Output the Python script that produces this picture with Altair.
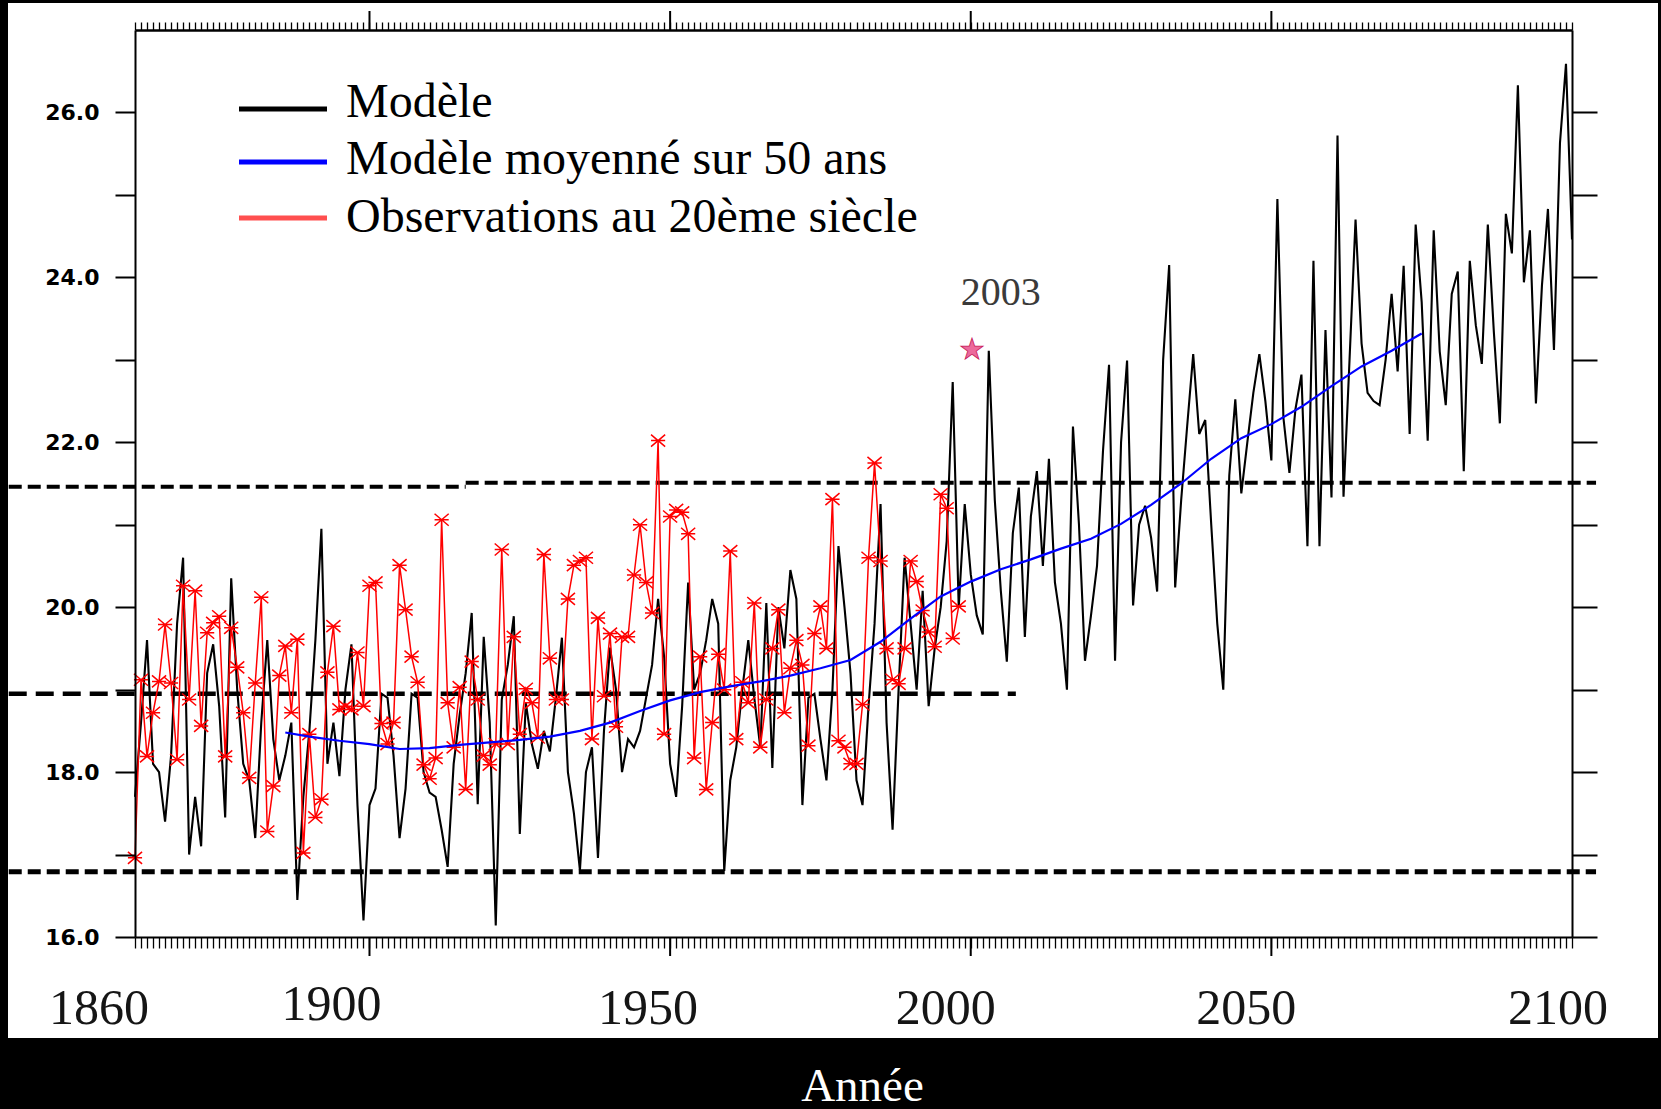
import altair as alt
import pandas as pd

# ---- summer temperature, model run (°C), one value per year 1861-2100 ----
model_years = list(range(1861, 2101))
model_temp = [
    17.7, 18.6, 19.6, 18.1, 18.0, 17.4, 18.2, 19.8, 20.6, 17.0,
    17.7, 17.1, 19.2, 19.55, 18.8, 17.45, 20.35, 19.0, 18.1, 17.9,
    17.2, 18.6, 19.6, 18.4, 17.9, 18.2, 18.6, 16.45, 17.7, 18.5,
    19.6, 20.95, 18.1, 18.6, 17.95, 19.0, 19.55, 17.6, 16.2, 17.6,
    17.8, 18.95, 18.9, 18.2, 17.2, 17.8, 18.95, 18.9, 18.0, 17.75,
    17.7, 17.3, 16.85, 18.1, 18.7, 19.2, 19.93, 17.61, 19.64, 18.6,
    16.14, 18.88, 19.3, 19.89, 17.25, 18.84, 18.34, 18.04, 18.5, 18.25,
    18.9, 19.63, 18.0, 17.5, 16.81, 18.0, 18.3, 16.96, 18.5, 19.51,
    19.0, 18.0, 18.4, 18.3, 18.5, 18.9, 19.3, 20.1, 19.4, 18.1,
    17.7, 18.8, 20.3, 19.0, 19.2, 19.6, 20.1, 19.8, 16.8, 17.9,
    18.3, 19.0, 19.6, 18.9, 18.3, 20.05, 18.05, 20.0, 19.5, 20.45,
    20.1, 17.6, 18.9, 18.95, 18.4, 17.9, 19.0, 20.74, 20.0, 19.2,
    17.9, 17.6, 18.8, 19.8, 21.25, 18.6, 17.3, 19.0, 20.6, 19.8,
    19.0, 20.2, 18.8, 19.5, 20.0, 20.8, 22.73, 20.0, 21.25, 20.4,
    19.9, 19.67, 23.11, 21.3, 20.2, 19.34, 20.9, 21.45, 19.64, 21.1,
    21.65, 20.5, 21.8, 20.3, 19.8, 19.0, 22.19, 21.0, 19.35, 19.9,
    20.5, 21.9, 22.94, 19.35, 22.0, 22.99, 20.02, 21.0, 21.23, 20.84,
    20.19, 23.0, 24.15, 20.24, 21.3, 22.2, 23.07, 22.1, 22.27, 21.0,
    19.8, 19.0, 21.6, 22.52, 21.38, 22.0, 22.6, 23.07, 22.5, 21.78,
    24.95, 22.3, 21.63, 22.4, 22.82, 20.74, 24.2, 20.74, 23.36, 21.33,
    25.72, 21.34, 23.0, 24.7, 23.2, 22.6, 22.5, 22.45, 23.0, 23.8,
    22.86, 24.14, 22.1, 24.64, 23.7, 22.02, 24.57, 23.1, 22.45, 23.8,
    24.07, 21.65, 24.2, 23.42, 22.95, 24.64, 23.34, 22.23, 24.77, 24.29,
    26.33, 23.94, 24.57, 22.47, 23.9, 24.83, 23.12, 25.63, 26.59, 24.46,
]

# ---- observed summer temperature (°C), 1861-1998 ----
obs_years = list(range(1861, 1999))
obs_temp = [
    16.96, 19.12, 18.19, 18.72, 19.1, 19.79, 19.08, 18.15, 20.26, 18.88,
    20.2, 18.56, 19.69, 19.81, 19.89, 18.19, 19.75, 19.27, 18.72, 17.93,
    19.08, 20.12, 17.28, 17.83, 19.17, 19.53, 18.72, 19.61, 17.02, 18.46,
    17.45, 17.67, 19.21, 19.77, 18.76, 18.8, 18.76, 19.45, 18.8, 20.26,
    20.3, 18.59, 18.34, 18.6, 20.51, 19.97, 19.4, 19.09, 18.09, 17.92,
    18.17, 21.06, 18.84, 18.3, 19.03, 17.79, 19.34, 18.88, 18.2, 18.09,
    18.34, 20.7, 18.34, 19.64, 18.46, 19.01, 18.84, 18.42, 20.64, 19.38,
    18.88, 18.88, 20.1, 20.51, 20.56, 20.6, 18.4, 19.87, 18.92, 19.68,
    18.55, 19.64, 19.64, 20.39, 21.0, 20.3, 19.93, 22.02, 18.46, 21.1,
    21.18, 21.15, 20.89, 18.17, 19.4, 17.79, 18.6, 19.43, 19.0, 20.68,
    18.4, 19.09, 18.84, 20.05, 18.3, 18.88, 19.5, 19.97, 18.72, 19.26,
    19.6, 19.3, 18.32, 19.68, 20.01, 19.5, 21.31, 18.38, 18.3, 18.1,
    18.1, 18.82, 20.6, 21.75, 20.56, 19.5, 19.12, 19.07, 19.5, 20.56,
    20.31, 19.96, 19.7, 19.52, 21.37, 21.2, 19.62, 20.01,
]

# ---- 50-year running mean of the model ----
smooth_years = [1886, 1890, 1895, 1900, 1905, 1910, 1915, 1920, 1925, 1930,
                1935, 1940, 1945, 1950, 1955, 1960, 1965, 1970, 1975, 1980,
                1985, 1990, 1995, 2000, 2005, 2010, 2015, 2020, 2025, 2030,
                2035, 2040, 2045, 2050, 2055, 2060, 2065, 2070, 2075]
smooth_temp = [18.48, 18.43, 18.38, 18.34, 18.28, 18.29, 18.33, 18.36, 18.39, 18.43,
               18.5, 18.6, 18.74, 18.87, 18.97, 19.04, 19.1, 19.17, 19.26, 19.36,
               19.58, 19.86, 20.13, 20.31, 20.46, 20.58, 20.71, 20.83, 21.01, 21.24,
               21.5, 21.8, 22.05, 22.22, 22.43, 22.68, 22.92, 23.11, 23.32]

# ---- reference levels (dashed) ----
level_start = [1840, 1916, 1840, 1840]
level_end = [1916, 2104, 2007.5, 2104]
level_temp = [21.46, 21.51, 18.95, 16.79]
level_kind = ["haut", "haut", "moyen", "bas"]

# ---- axes ----
year_ticks = list(range(1861, 2101))
major_years = [1900, 1950, 2000, 2050]
year_labels = [1860, 1900, 1950, 2000, 2050, 2100]
temp_ticks = list(range(16, 27))

# ---- highlighted summer ----
highlight_year = [2003]
highlight_temp = [23.13]

legend_labels = ["Modèle", "Modèle moyenné sur 50 ans", "Observations au 20ème siècle"]
legend_colors = ["#000000", "#0000ff", "#ff4f4f"]

# ------------------------------------------------------------------
W, H = 1437, 907
LEFT, TOP = 135, 30
SERIF = "Liberation Serif"

xs = alt.Scale(domain=[1861, 2100], nice=False, zero=False)
ys = alt.Scale(domain=[16, 27], nice=False, zero=False)

model_df = pd.DataFrame({"year": model_years, "temp": model_temp})
obs_df = pd.DataFrame({"year": obs_years, "temp": obs_temp})
smooth_df = pd.DataFrame({"year": smooth_years, "temp": smooth_temp})
levels_df = pd.DataFrame({"start": level_start, "end": level_end,
                          "temp": level_temp, "kind": level_kind})
major_df = pd.DataFrame({"year": major_years})
hl_df = pd.DataFrame({"year": highlight_year, "temp": highlight_temp})
one = pd.DataFrame({"k": [0]})

# white sheet behind the plot
panel = alt.Chart(one).mark_rect(color="white").encode(
    x=alt.value(8 - LEFT), x2=alt.value(1658 - LEFT),
    y=alt.value(3 - TOP), y2=alt.value(1038 - TOP),
)

levels = alt.Chart(levels_df).mark_rule(color="black").encode(
    x=alt.X("start:Q", scale=xs, axis=None),
    x2="end:Q",
    y=alt.Y("temp:Q", scale=ys, axis=None),
    strokeDash=alt.StrokeDash("kind:N", legend=None,
                              scale=alt.Scale(domain=["haut", "moyen", "bas"],
                                              range=[[13, 6], [18, 9], [13, 6]])),
    strokeWidth=alt.StrokeWidth("kind:N", legend=None,
                                scale=alt.Scale(domain=["haut", "moyen", "bas"],
                                                range=[4, 5, 4])),
)

axis_common = dict(grid=False, title=None, domainColor="black", tickColor="black",
                   zindex=2)

model = alt.Chart(model_df).mark_line(color="black", strokeWidth=2.1).encode(
    x=alt.X("year:Q", scale=xs,
            axis=alt.Axis(orient="bottom", values=year_ticks, tickSize=11,
                          tickWidth=1.3, labels=False, domainWidth=2,
                          title="Année", titleColor="white", titleFont=SERIF,
                          titleFontSize=47, titleFontWeight="normal",
                          titleX=862 - LEFT, titleY=1100 - TOP - H,
                          titleAlign="center", titleBaseline="alphabetic",
                          grid=False, domainColor="black", tickColor="black",
                          zindex=2)),
    y=alt.Y("temp:Q", scale=ys,
            axis=alt.Axis(orient="left", values=temp_ticks, tickSize=20, tickWidth=2,
                          domainWidth=2,
                          labelExpr="datum.value % 2 == 0 ? format(datum.value, '.1f') : ''",
                          labelFont="DejaVu Sans", labelFontWeight="bold",
                          labelFontSize=22, labelColor="black", labelPadding=16,
                          labelOverlap=False, **axis_common)),
)

obs_line = alt.Chart(obs_df).mark_line(color="#ff0000", strokeWidth=1.5).encode(
    x=alt.X("year:Q", scale=xs, axis=None),
    y=alt.Y("temp:Q", scale=ys, axis=None),
)

obs_pts = alt.Chart(obs_df).mark_point(
    shape="M-1,-0.85L1,0.85M-1,0.85L1,-0.85M-1,0L1,0",
    size=200, color="#ff0000", strokeWidth=1.5, filled=False, opacity=1,
).encode(
    x=alt.X("year:Q", scale=xs, axis=None),
    y=alt.Y("temp:Q", scale=ys, axis=None),
)

smooth = alt.Chart(smooth_df).mark_line(color="#0000ff", strokeWidth=2.2).encode(
    x=alt.X("year:Q", scale=xs,
            axis=alt.Axis(orient="top", values=year_ticks, tickSize=8, tickWidth=1.3,
                          labels=False, domainWidth=2.5, **axis_common)),
    y=alt.Y("temp:Q", scale=ys,
            axis=alt.Axis(orient="right", values=temp_ticks, tickSize=25, tickWidth=2,
                          labels=False, domainWidth=2, **axis_common)),
)

major_top = alt.Chart(major_df).mark_rule(color="black", strokeWidth=2).encode(
    x=alt.X("year:Q", scale=xs, axis=None), y=alt.value(0), y2=alt.value(-19))
major_bottom = alt.Chart(major_df).mark_rule(color="black", strokeWidth=2).encode(
    x=alt.X("year:Q", scale=xs, axis=None), y=alt.value(H), y2=alt.value(H + 19))

# year labels under the axis, each nudged to its printed place
label_nudge = {1860: -30, 1900: -38, 1950: -22, 2000: -25, 2050: -25, 2100: -14}
label_rise = {1900: 4}
year_label_layers = []
for yr in year_labels:
    year_label_layers.append(
        alt.Chart(pd.DataFrame({"year": [yr]})).mark_text(
            font=SERIF, fontSize=50, color="#151515", align="center",
            baseline="alphabetic", dx=label_nudge[yr],
        ).encode(
            x=alt.X("year:Q", scale=xs, axis=None),
            y=alt.value(1024 - TOP - label_rise.get(yr, 0)),
            text=alt.Text("year:Q", format="d"),
        )
    )

star = alt.Chart(hl_df).mark_text(
    text="★", fontSize=29, color="#ec6a9c", stroke="#c8205a", strokeWidth=0.8,
    align="center", baseline="middle", dx=-17, dy=1,
).encode(
    x=alt.X("year:Q", scale=xs, axis=None),
    y=alt.Y("temp:Q", scale=ys, axis=None),
)

star_label = alt.Chart(hl_df).mark_text(
    font=SERIF, fontSize=40, color="#3a3a3a", align="center",
    baseline="alphabetic", dx=12, dy=-44,
).encode(
    x=alt.X("year:Q", scale=xs, axis=None),
    y=alt.Y("temp:Q", scale=ys, axis=None),
    text=alt.Text("year:Q", format="d"),
)

# legend, top left inside the frame
legend_line_y = [79, 132, 188]
legend_text_y = [87, 144, 202]
legend_layers = []
for lab, col, ly, ty in zip(legend_labels, legend_colors, legend_line_y, legend_text_y):
    legend_layers.append(
        alt.Chart(one).mark_rule(color=col, strokeWidth=5).encode(
            x=alt.value(104), x2=alt.value(192), y=alt.value(ly)))
    legend_layers.append(
        alt.Chart(one).mark_text(text=lab, font=SERIF, fontSize=48, color="black",
                                 align="left", baseline="alphabetic").encode(
            x=alt.value(211), y=alt.value(ty)))

chart = alt.layer(
    panel, model, levels, obs_line, obs_pts, smooth, major_top, major_bottom,
    *year_label_layers, star, star_label, *legend_layers,
).resolve_axis(
    x="independent", y="independent"
).properties(
    width=W, height=H, background="black",
    padding={"left": LEFT, "top": TOP, "right": 1661 - LEFT - W, "bottom": 1109 - TOP - H},
    autosize=alt.AutoSizeParams(type="none"),
).configure_view(stroke=None)

chart.save("out.html", embed_options={"renderer": "svg", "actions": False})
